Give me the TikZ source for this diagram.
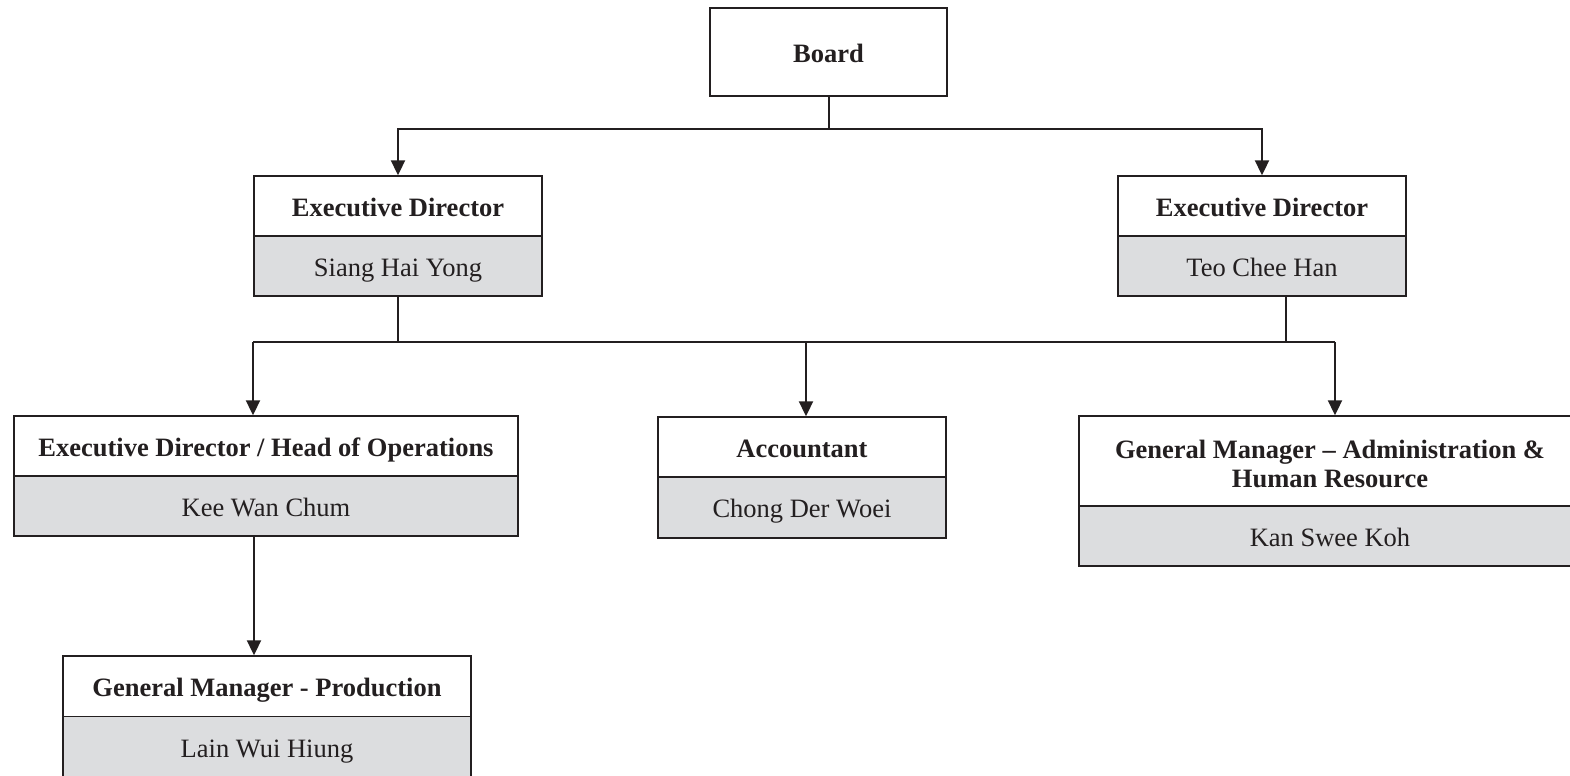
\documentclass[tikz,border=0pt]{standalone}
\usepackage{fontspec}
\setmainfont{Liberation Serif}
\usetikzlibrary{arrows.meta,calc}
\definecolor{boxgray}{RGB}{220,221,223}
\definecolor{ink}{RGB}{35,31,32}
\tikzset{
  box/.style={draw=ink, line width=0.7pt, inner sep=0pt, align=center, text=ink, text height=10pt, text depth=0pt, font=\fontsize{13.25}{14.5}\selectfont},
  ttl/.style={box, fill=white, font=\fontsize{13.25}{14.5}\selectfont\bfseries},
  nm/.style={box, fill=boxgray},
  line/.style={draw=ink, line width=1pt},
  arr/.style={line, -{Triangle[length=7.5pt,width=7pt]}}
}
\begin{document}
\begin{tikzpicture}[x=0.5pt,y=-0.5pt]
\useasboundingbox (0,0) rectangle (1570,776);
\clip (0,0) rectangle (1570,776);
\fill[white] (0,0) rectangle (1570,776);
% boxes
\node[ttl, minimum width=118.5pt, minimum height=44pt] (board) at (828.5,52) {Board};
\node[ttl, minimum width=144pt, minimum height=30pt] (edlt) at (398,206) {Executive Director};
\node[nm, minimum width=144pt, minimum height=30pt] (edln) at (398,266) {Siang Hai Yong};
\node[ttl, minimum width=144pt, minimum height=30pt] (edrt) at (1262,206) {Executive Director};
\node[nm, minimum width=144pt, minimum height=30pt] (edrn) at (1262,266) {Teo Chee Han};
\node[ttl, minimum width=252pt, minimum height=30pt] (edhot) at (266,446) {Executive Director / Head of Operations};
\node[nm, minimum width=252pt, minimum height=30pt] (edhon) at (266,506) {Kee Wan Chum};
\node[ttl, minimum width=144pt, minimum height=30pt] (acct) at (802,447) {Accountant};
\node[nm, minimum width=144pt, minimum height=30.5pt] (accn) at (802,507.5) {Chong Der Woei};
\node[ttl, text height=26pt, text depth=0pt, minimum width=251pt, minimum height=45pt] (gmat) at (1330,461) {General Manager -- Administration \&\\Human Resource};
\node[nm, minimum width=251pt, minimum height=30pt] (gman) at (1330,536) {Kan Swee Koh};
\node[ttl, minimum width=204pt, minimum height=30.5pt] (gmpt) at (267,686.5) {General Manager - Production};
\node[nm, minimum width=204pt, minimum height=31pt] (gmpn) at (267,747.5) {Lain Wui Hiung};
% top connectors
\draw[line] (board.south) -- ++(0,32) coordinate (bj);
\draw[arr] (bj) -| (edlt.north);
\draw[arr] (bj) -| (edrt.north);
% middle bus
\coordinate (bl) at (253,342);
\coordinate (bm) at (806,342);
\coordinate (br) at (1335,342);
\coordinate (rj) at (1286,342);
\draw[line] (bl) -- (br);
\draw[line] (edln.south) -- (edln.south |- bl);
\draw[line] (edrn.south -| rj) -- (rj);
\draw[arr] (bl) -- (edhot.north -| bl);
\draw[arr] (bm) -- (acct.north -| bm);
\draw[arr] (br) -- (gmat.north -| br);
% lower
\coordinate (lo) at (254,536);
\draw[arr] (edhon.south -| lo) -- (gmpt.north -| lo);
\end{tikzpicture}
\end{document}
